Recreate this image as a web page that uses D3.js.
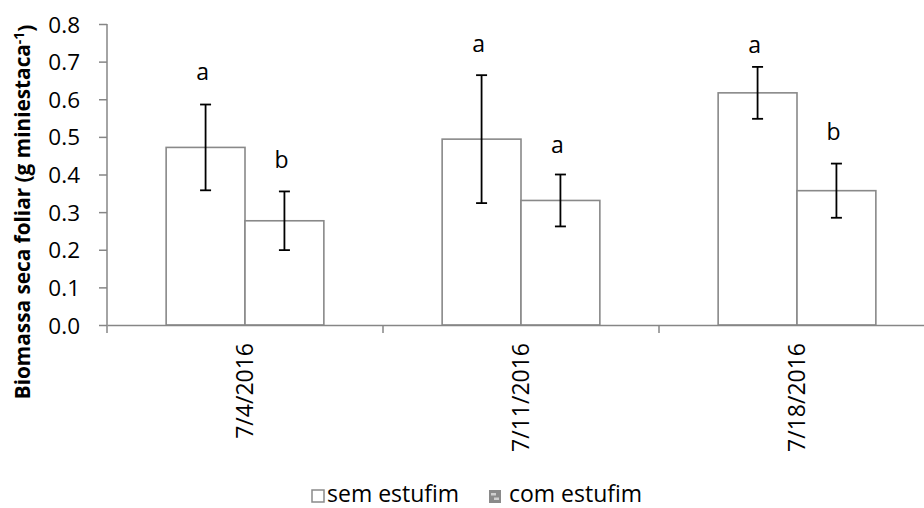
<!DOCTYPE html>
<html>
<head>
<meta charset="utf-8">
<script src="https://cdn.jsdelivr.net/npm/d3@7"></script>
<style>
  html, body { margin: 0; padding: 0; background: #fff; }
  svg { display: block; overflow: hidden; }
  text { font-family: "Open Sans", "DejaVu Sans", sans-serif; fill: #000; }
</style>
</head>
<body>
<svg id="chart" width="924" height="508"></svg>
<script>
// ---- data ----
const categories = ["7/4/2016", "7/11/2016", "7/18/2016"];
const seriesNames = ["sem estufim", "com estufim"];
const semMeans = [0.472, 0.494, 0.617];
const semErrors = [0.114, 0.170, 0.069];
const comMeans = [0.277, 0.331, 0.357];
const comErrors = [0.078, 0.069, 0.072];
const semLetters = ["a", "a", "a"];
const comLetters = ["b", "a", "b"];
const semLetterY = [0.651, 0.726, 0.723];
const comLetterY = [0.417, 0.457, 0.492];
const yTicks = [0, 0.1, 0.2, 0.3, 0.4, 0.5, 0.6, 0.7, 0.8];
const yTitle = "Biomassa seca foliar (g miniestaca";
const yTitleSup = "-1";

(function () {
const rows = [];
categories.forEach((c, i) => {
  rows.push({cat: c, s: seriesNames[0], v: semMeans[i], e: semErrors[i], l: semLetters[i], ly: semLetterY[i]});
  rows.push({cat: c, s: seriesNames[1], v: comMeans[i], e: comErrors[i], l: comLetters[i], ly: comLetterY[i]});
});

const svg = d3.select("#chart");
const axisColor = "#868686";
const pLeft = 107, pTop = 24, pBottom = 325;

const y = d3.scaleLinear().domain([0, 0.8]).range([pBottom, pTop]);
const x0 = d3.scaleBand().domain(categories).range([pLeft, pLeft + 3 * 276]).paddingInner(0).paddingOuter(0);
const x1 = d3.scaleBand().domain(seriesNames).range([0, x0.bandwidth()]).paddingInner(0).paddingOuter(0.75);

// y axis
const yAxis = svg.append("g").attr("transform", `translate(${pLeft},0)`)
  .call(d3.axisLeft(y).tickValues(yTicks).tickFormat(d3.format(".1f")).tickSize(8).tickSizeOuter(0));
yAxis.select(".domain").remove();
yAxis.selectAll(".tick line").attr("stroke", axisColor).attr("stroke-width", 1.5);
yAxis.selectAll(".tick text").attr("x", -27).attr("dy", "0.36em")
  .style("font-size", "22.5px").style("font-family", "'Open Sans', sans-serif");
svg.append("line").attr("x1", pLeft).attr("x2", pLeft).attr("y1", pTop).attr("y2", pBottom + 8)
  .attr("stroke", axisColor).attr("stroke-width", 1.5);

// bars
svg.append("g").selectAll("rect.bar").data(rows).join("rect")
  .attr("class", "bar")
  .attr("x", d => x0(d.cat) + x1(d.s))
  .attr("y", d => y(d.v))
  .attr("width", x1.bandwidth())
  .attr("height", d => y(0) - y(d.v))
  .attr("fill", "#fff")
  .attr("stroke", "#898989")
  .attr("stroke-width", 1.6);

// x axis
const xAxis = svg.append("g").attr("transform", `translate(0,${pBottom})`)
  .call(d3.axisBottom(x0).tickSize(0).tickSizeOuter(0));
xAxis.select(".domain").attr("stroke", axisColor).attr("stroke-width", 1.5);
xAxis.selectAll(".tick text")
  .attr("transform", "rotate(-90)")
  .attr("x", -18).attr("y", 0).attr("dy", "0.36em")
  .attr("text-anchor", "end")
  .style("font-size", "23px").style("font-family", "'Open Sans', sans-serif");
svg.selectAll("line.bt").data(categories.slice(1)).join("line")
  .attr("class", "bt")
  .attr("x1", d => x0(d)).attr("x2", d => x0(d))
  .attr("y1", pBottom).attr("y2", pBottom + 8)
  .attr("stroke", axisColor).attr("stroke-width", 1.5);

// error bars
const cx = d => x0(d.cat) + x1(d.s) + x1.bandwidth() / 2;
const eb = svg.append("g").attr("stroke", "#000").attr("stroke-width", 1.8);
rows.forEach(d => {
  const xc = cx(d), yt = y(d.v + d.e), yb = y(d.v - d.e);
  eb.append("line").attr("x1", xc).attr("x2", xc).attr("y1", yt).attr("y2", yb);
  eb.append("line").attr("x1", xc - 5.5).attr("x2", xc + 5.5).attr("y1", yt).attr("y2", yt);
  eb.append("line").attr("x1", xc - 5.5).attr("x2", xc + 5.5).attr("y1", yb).attr("y2", yb);
});

// letters
svg.selectAll("text.letter").data(rows).join("text")
  .attr("class", "letter")
  .attr("x", d => cx(d) - 3)
  .attr("y", d => y(d.ly))
  .attr("text-anchor", "middle")
  .style("font-size", "23px")
  .text(d => d.l);

// y title (compressed horizontally to mimic a narrow face)
const tt = svg.append("text")
  .attr("text-anchor", "middle")
  .style("font-weight", "bold")
  .style("font-size", "21px");
tt.append("tspan").text(yTitle);
tt.append("tspan").text(yTitleSup).attr("dy", "-0.45em").style("font-size", "14px");
tt.append("tspan").text(")").attr("dy", "0.45em");
const target = 375;
const len = tt.node().getComputedTextLength();
const k = len > 0 ? target / len : 1;
tt.attr("transform", `translate(30,212) rotate(-90) scale(${k},1)`);

// legend
const lg = svg.append("g");
const legendItems = [
  {name: seriesNames[0], ix: 312, tx: 327},
  {name: seriesNames[1], ix: 489, tx: 509}
];
lg.append("rect").attr("x", legendItems[0].ix).attr("y", 490).attr("width", 12).attr("height", 12)
  .attr("fill", "#fff").attr("stroke", "#8a8a8a").attr("stroke-width", 1.5);
lg.append("rect").attr("x", legendItems[1].ix).attr("y", 490).attr("width", 12).attr("height", 13)
  .attr("fill", "#8a8a8a");
lg.append("rect").attr("x", legendItems[1].ix + 2).attr("y", 493).attr("width", 5).attr("height", 2.5).attr("fill", "#cfcfcf");
lg.append("rect").attr("x", legendItems[1].ix + 5).attr("y", 497.5).attr("width", 5).attr("height", 2.5).attr("fill", "#cfcfcf");
lg.selectAll("text.lt").data(legendItems).join("text")
  .attr("class", "lt")
  .attr("x", d => d.tx).attr("y", 502)
  .style("font-size", "23px")
  .text(d => d.name);
})();
</script>
</body>
</html>
